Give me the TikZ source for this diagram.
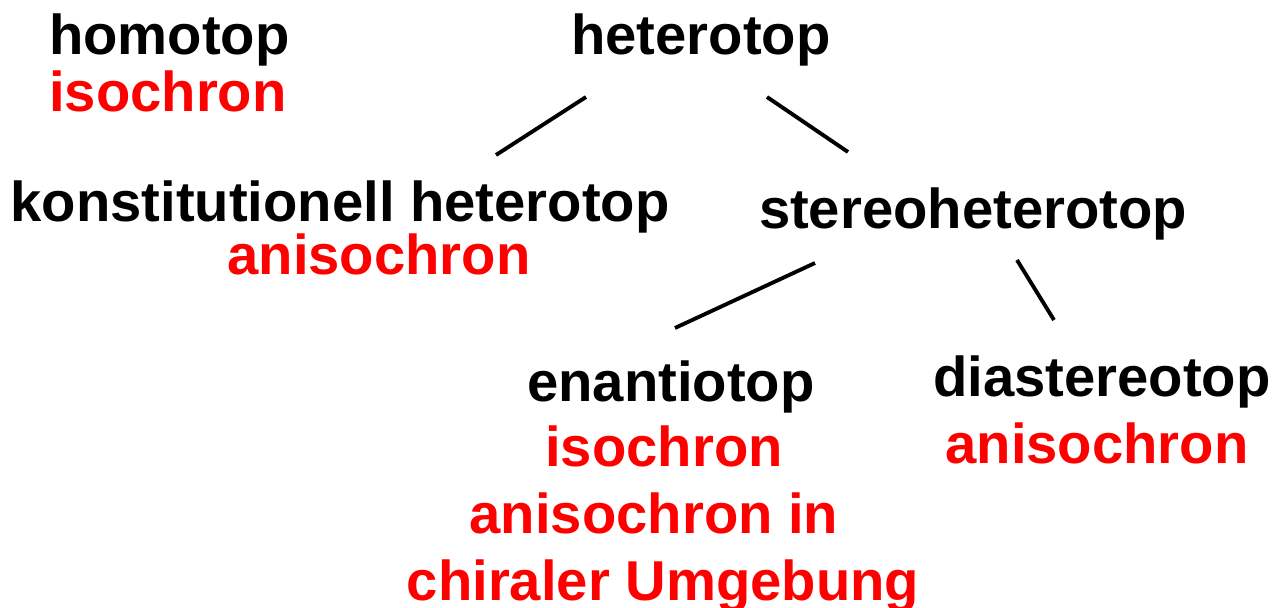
\documentclass[tikz,border=0pt]{standalone}
\usepackage{fontspec}
\setmainfont{Liberation Sans}
\usetikzlibrary{positioning}
\definecolor{isored}{RGB}{255,0,0}

\begin{document}
\begin{tikzpicture}[x=0.02cm,y=-0.02cm,
   topo/.style={anchor=base,font=\fontsize{32}{38}\selectfont\bfseries},
   nmr/.style={topo,text=isored},
   link/.style={line width=2.2pt}]
   \useasboundingbox (0,0) rectangle (1276,608);
   % top row
   \node[topo,anchor=base west] (homo)     at (43,55)   {homotop};
   \node[nmr,anchor=base west] (homo_iso)  at (43,112)  {isochron};
   \node[topo] (het)      at (701,55)  {heterotop};
   % second row
   \node[topo] (konst)    at (340,222) {konstitutionell heterotop};
   \node[nmr] (konst_an)  at (379,275) {anisochron};
   \node[topo] (stereo)   at (973,229) {stereoheterotop};
   % third row
   \node[topo] (enant)    at (671,401) {enantiotop};
   \node[nmr] (enant_iso) at (664,466) {isochron};
   \node[nmr] (enant_an)  at (654,533) {anisochron in};
   \node[nmr] (enant_ch)  at (663,600) {chiraler Umgebung};
   \node[topo] (dia)      at (1102,397) {diastereotop};
   \node[nmr] (dia_an)    at (1097,463) {anisochron};
   % line ends
   \coordinate (het_l)    at (586,97);
   \coordinate (het_r)    at (767,97);
   \coordinate (konst_t)  at (496,155);
   \coordinate (stereo_t) at (848,152);
   \coordinate (stereo_l) at (815,263);
   \coordinate (stereo_r) at (1017,260);
   \coordinate (enant_t)  at (675,328);
   \coordinate (dia_t)    at (1054,320);
   \draw[link] (het_l) -- (konst_t);
   \draw[link] (het_r) -- (stereo_t);
   \draw[link] (stereo_l) -- (enant_t);
   \draw[link] (stereo_r) -- (dia_t);
\end{tikzpicture}
\end{document}
